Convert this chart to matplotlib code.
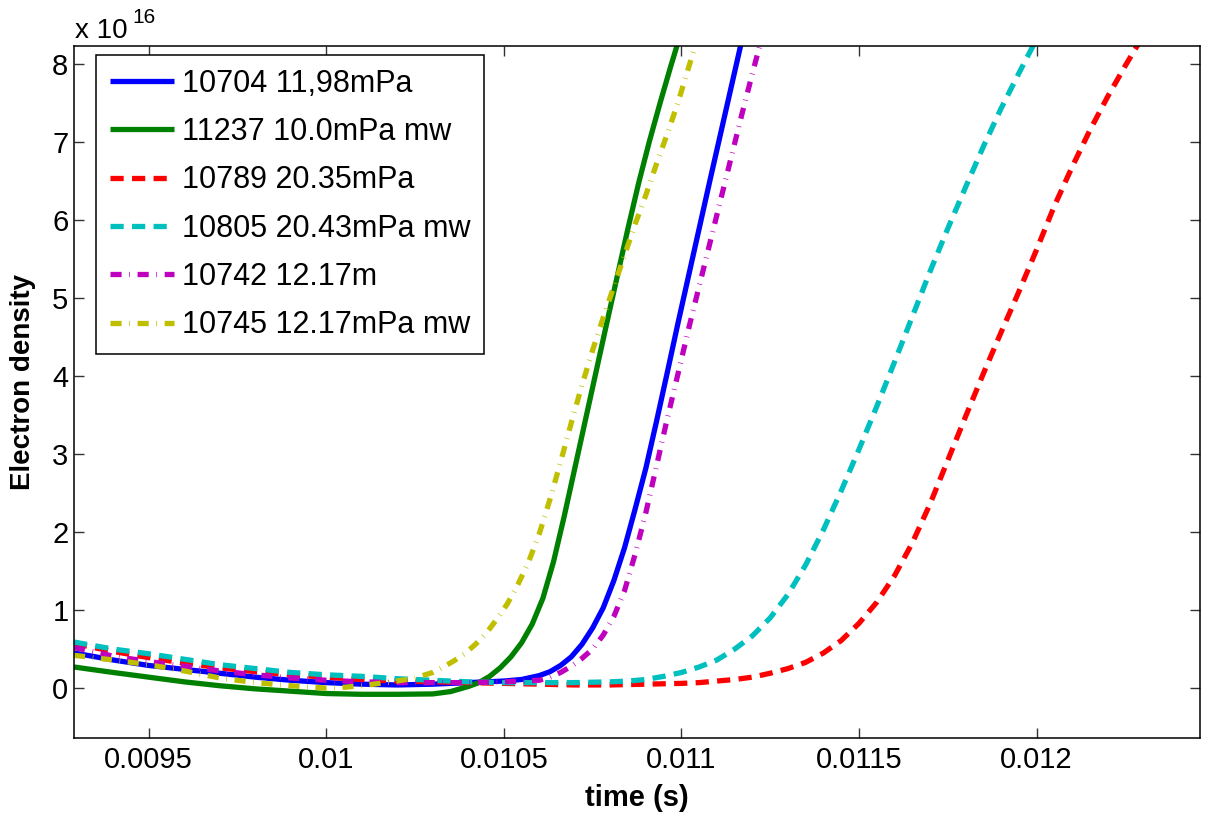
import matplotlib
matplotlib.use("Agg")
import matplotlib.pyplot as plt
from matplotlib.ticker import FixedLocator, FuncFormatter

plt.rcParams["font.family"] = ["Liberation Sans", "DejaVu Sans"]
plt.rcParams["lines.scale_dashes"] = False

SCALE = 1e16

# Shot 10704, 11.98 mPa
t_10704 = [0.00929, 0.0094, 0.0095, 0.0096, 0.0097, 0.0098, 0.0099, 0.0100, 0.0101,
           0.0102, 0.0103, 0.0104, 0.0105, 0.01055, 0.0106, 0.01063, 0.01066, 0.01069,
           0.01072, 0.01075, 0.01078, 0.01081, 0.01084, 0.01087, 0.0109, 0.01093,
           0.01096, 0.01099, 0.01102, 0.01105, 0.01108, 0.01111, 0.01114, 0.01117, 0.0112]
n_10704 = [0.45, 0.36, 0.29, 0.24, 0.19, 0.14, 0.10, 0.07, 0.05,
           0.04, 0.05, 0.07, 0.09, 0.11, 0.16, 0.21, 0.29, 0.40,
           0.56, 0.77, 1.03, 1.38, 1.80, 2.30, 2.82, 3.42,
           4.04, 4.67, 5.28, 5.89, 6.50, 7.10, 7.70, 8.30, 8.90]

# Shot 11237, 10.0 mPa mw
t_11237 = [0.00929, 0.0094, 0.0095, 0.0096, 0.0097, 0.0098, 0.0099, 0.0100, 0.0101,
           0.0102, 0.0103, 0.01035, 0.0104, 0.01043, 0.01046, 0.01049, 0.01052, 0.01055,
           0.01058, 0.01061, 0.01064, 0.01067, 0.0107, 0.01073, 0.01076, 0.01079,
           0.01082, 0.01085, 0.01088, 0.01091, 0.01094, 0.01097, 0.0110]
n_11237 = [0.27, 0.20, 0.14, 0.08, 0.03, -0.01, -0.04, -0.07, -0.08,
           -0.08, -0.075, -0.045, 0.02, 0.07, 0.15, 0.26, 0.40, 0.58,
           0.82, 1.15, 1.62, 2.20, 2.82, 3.44, 4.06, 4.68,
           5.29, 5.90, 6.48, 7.01, 7.50, 7.97, 8.42]

# Shot 10789, 20.35 mPa
t_10789 = [0.00929, 0.0094, 0.0095, 0.0096, 0.0097, 0.0098, 0.0099, 0.0100, 0.0101,
           0.0102, 0.0103, 0.0104, 0.0105, 0.0106, 0.0107, 0.0108, 0.0109, 0.0110,
           0.01105, 0.0111, 0.01115, 0.0112, 0.01125, 0.0113, 0.01135, 0.0114, 0.01145,
           0.0115, 0.01155, 0.0116, 0.01165, 0.0117, 0.01175, 0.0118, 0.01185, 0.0119,
           0.01195, 0.0120, 0.01205, 0.0121, 0.01215, 0.0122, 0.01225, 0.0123]
n_10789 = [0.57, 0.47, 0.39, 0.32, 0.26, 0.21, 0.17, 0.14, 0.11,
           0.09, 0.08, 0.07, 0.06, 0.05, 0.04, 0.04, 0.05, 0.06,
           0.07, 0.09, 0.11, 0.14, 0.19, 0.25, 0.33, 0.45, 0.61,
           0.83, 1.10, 1.44, 1.86, 2.36, 2.92, 3.48, 4.03, 4.56,
           5.08, 5.62, 6.18, 6.68, 7.15, 7.58, 7.98, 8.36]

# Shot 10805, 20.43 mPa mw
t_10805 = [0.00929, 0.0094, 0.0095, 0.0096, 0.0097, 0.0098, 0.0099, 0.0100, 0.0101,
           0.0102, 0.0103, 0.0104, 0.0105, 0.0106, 0.0107, 0.0108, 0.01085, 0.0109,
           0.01095, 0.0110, 0.01105, 0.0111, 0.01115, 0.0112, 0.01125, 0.0113, 0.01135,
           0.0114, 0.01145, 0.0115, 0.01155, 0.0116, 0.01165, 0.0117, 0.01175, 0.0118,
           0.01185, 0.0119, 0.01195, 0.0120]
n_10805 = [0.59, 0.50, 0.44, 0.37, 0.30, 0.25, 0.20, 0.17, 0.15,
           0.12, 0.10, 0.08, 0.07, 0.07, 0.07, 0.08, 0.09, 0.11,
           0.15, 0.20, 0.27, 0.36, 0.50, 0.67, 0.90, 1.20, 1.58,
           2.03, 2.53, 3.06, 3.61, 4.18, 4.76, 5.34, 5.89, 6.42,
           6.94, 7.43, 7.88, 8.32]

# Shot 10742, 12.17 m
t_10742 = [0.00929, 0.0094, 0.0095, 0.0096, 0.0097, 0.0098, 0.0099, 0.0100, 0.0101,
           0.0102, 0.0103, 0.0104, 0.0105, 0.0106, 0.01063, 0.01066, 0.01069, 0.01072,
           0.01075, 0.01078, 0.01081, 0.01084, 0.01087, 0.0109, 0.01093, 0.01096,
           0.01099, 0.01102, 0.01105, 0.01108, 0.01111, 0.01114, 0.01117, 0.0112, 0.01123,
           0.01126]
n_10742 = [0.52, 0.41, 0.34, 0.28, 0.22, 0.17, 0.13, 0.10, 0.08,
           0.07, 0.07, 0.07, 0.08, 0.10, 0.14, 0.20, 0.28, 0.38,
           0.50, 0.68, 0.92, 1.25, 1.72, 2.25, 2.85, 3.45,
           4.02, 4.60, 5.15, 5.70, 6.25, 6.80, 7.35, 7.88, 8.40,
           8.92]

# Shot 10745, 12.17 mPa mw
t_10745 = [0.00929, 0.0094, 0.0095, 0.0096, 0.0097, 0.0098, 0.0099, 0.0100, 0.01005,
           0.0101, 0.01015, 0.0102, 0.01025, 0.0103, 0.01033, 0.01036, 0.01039, 0.01042,
           0.01045, 0.01048, 0.01051, 0.01054, 0.01057, 0.0106, 0.01063, 0.01066,
           0.01069, 0.01072, 0.01075, 0.01078, 0.01081, 0.01084, 0.01087, 0.0109,
           0.01093, 0.01096, 0.01099, 0.01102, 0.01105]
n_10745 = [0.42, 0.36, 0.30, 0.22, 0.13, 0.07, 0.03, 0.00, 0.01,
           0.03, 0.06, 0.09, 0.13, 0.20, 0.27, 0.35, 0.44, 0.56,
           0.70, 0.88, 1.08, 1.33, 1.62, 1.98, 2.42, 2.90,
           3.40, 3.88, 4.33, 4.75, 5.15, 5.55, 5.95, 6.32,
           6.72, 7.10, 7.50, 7.95, 8.40]

labels = ["10704 11,98mPa", "11237 10.0mPa mw", "10789 20.35mPa",
          "10805 20.43mPa mw", "10742 12.17m", "10745 12.17mPa mw"]
colors = ["#0000ff", "#008000", "#ff0000", "#00bfbf", "#bf00bf", "#bfbf00"]

x_ticks = [0.0095, 0.0100, 0.0105, 0.0110, 0.0115, 0.0120]
y_ticks = [0, 1, 2, 3, 4, 5, 6, 7, 8]

fig = plt.figure(figsize=(12.14, 8.16), dpi=100)
ax = fig.add_axes([74 / 1214, 78 / 816, 1126 / 1214, 692 / 816])

solid = "-"
dashed = (0, (9.5, 6.0))
dashdot = (0, (8.0, 5.5, 0.5, 5.5))
styles = [solid, solid, dashed, dashed, dashdot, dashdot]

series = [(t_10704, n_10704), (t_11237, n_11237), (t_10789, n_10789),
          (t_10805, n_10805), (t_10742, n_10742), (t_10745, n_10745)]

lw = 3.8
for (t, n), lab, col, ls in zip(series, labels, colors, styles):
    ax.plot(t, [v * SCALE for v in n], color=col, linestyle=ls, linewidth=lw,
            label=lab, solid_capstyle="butt", dash_capstyle="butt",
            solid_joinstyle="round")

ax.set_xlim(0.00929, 0.01246)
ax.set_ylim(-0.64 * SCALE, 8.23 * SCALE)

ax.xaxis.set_major_locator(FixedLocator(x_ticks))
ax.yaxis.set_major_locator(FixedLocator([v * SCALE for v in y_ticks]))
ax.xaxis.set_major_formatter(FuncFormatter(lambda v, p: f"{v:g}"))
ax.yaxis.set_major_formatter(FuncFormatter(lambda v, p: f"{v / SCALE:g}"))

ax.tick_params(axis="both", which="major", direction="in", length=7, width=1,
               labelsize=21, top=True, right=True, color="#333333")
ax.tick_params(axis="x", pad=6)
ax.tick_params(axis="y", pad=4)
for sp in ax.spines.values():
    sp.set_linewidth(1.1)
    sp.set_color("black")

ax.set_xlabel("time (s)", fontsize=21, fontweight="bold")
ax.set_ylabel("Electron density", fontsize=20, fontweight="bold")
ax.xaxis.set_label_coords(0.5, -0.066)
ax.yaxis.set_label_coords(-0.034, 0.514)

# Exponent of the y axis
fig.text(75 / 1214, 1 - 38 / 816, "x 10", fontsize=20, ha="left", va="baseline")
fig.text(132 / 1214, 1 - 23 / 816, "16", fontsize=15, ha="left", va="baseline")

leg = ax.legend(loc="upper left", bbox_to_anchor=(22 / 1126, 1 - 9 / 692),
                borderaxespad=0, fontsize=22, handlelength=2.1,
                handletextpad=0.25, labelspacing=0.6, borderpad=0.45,
                frameon=True, fancybox=False, framealpha=1, edgecolor="black")
leg.get_frame().set_linewidth(1.1)

fig.savefig("out.png", dpi=100)
